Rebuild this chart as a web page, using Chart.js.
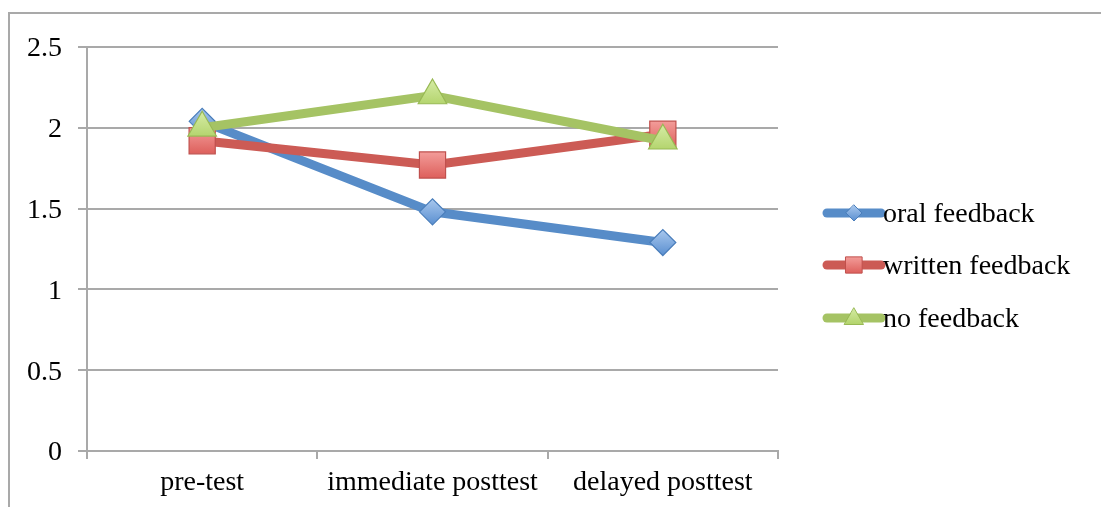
<!DOCTYPE html>
<html><head><meta charset="utf-8">
<script src="https://cdn.jsdelivr.net/npm/chart.js@4/dist/chart.umd.min.js"></script>
<style>
html,body{margin:0;padding:0;background:#fff;overflow:hidden;}
#wrap{position:relative;width:1101px;height:507px;}
#frame{position:absolute;left:8px;top:12px;width:1093px;height:495px;border-left:2px solid #a9a9a9;border-top:2px solid #a9a9a9;box-sizing:border-box;}
canvas{position:absolute;left:0;top:0;}
</style></head>
<body><div id="wrap"><div id="frame"></div><canvas id="c" width="1101" height="507"></canvas></div>
<script>
const categories = ['pre-test', 'immediate posttest', 'delayed posttest'];
const oralFeedback = [2.04, 1.48, 1.29];
const writtenFeedback = [1.92, 1.77, 1.96];
const noFeedback = [2.0, 2.2, 1.92];
const yTicks = [0, 0.5, 1, 1.5, 2, 2.5];

const FONT = "'Liberation Serif', 'Times New Roman', serif";

const series = [
  {label:'oral feedback', data:oralFeedback, line:'#578cc8', border:'#4a7ebb', top:'#a9c8ee', bottom:'#5a8fd0', style:'rectRot', r:13, lr:8, order:3},
  {label:'written feedback', data:writtenFeedback, line:'#cc5b55', border:'#c0504d', top:'#f7a9a6', bottom:'#d9534f', style:'rect', r:18.5, lr:11.5, order:2},
  {label:'no feedback', data:noFeedback, line:'#a5c364', border:'#98b954', top:'#d6eca6', bottom:'#a9cd5c', style:'triangle', r:16.5, lr:11, order:1}
];

function gradFor(s){
  return function(ctx){
    const chart = ctx.chart;
    if (!chart.chartArea || !ctx.parsed) return s.bottom;
    const y = chart.scales.y.getPixelForValue(ctx.parsed.y);
    const g = chart.ctx.createLinearGradient(0, y - s.r, 0, y + s.r);
    g.addColorStop(0, s.top);
    g.addColorStop(1, s.bottom);
    return g;
  };
}

function drawMarker(ctx, style, x, y, r){
  ctx.beginPath();
  if (style === 'rectRot'){
    ctx.moveTo(x, y - r); ctx.lineTo(x + r, y); ctx.lineTo(x, y + r); ctx.lineTo(x - r, y);
  } else if (style === 'rect'){
    const h = r * Math.SQRT1_2;
    ctx.rect(x - h, y - h, 2*h, 2*h);
  } else {
    ctx.moveTo(x, y - r);
    ctx.lineTo(x + r*Math.sin(2*Math.PI/3), y - r*Math.cos(2*Math.PI/3));
    ctx.lineTo(x + r*Math.sin(4*Math.PI/3), y - r*Math.cos(4*Math.PI/3));
  }
  ctx.closePath();
  ctx.fill(); ctx.stroke();
}

const legendPlugin = {
  id:'customLegend',
  afterDraw(chart){
    const ctx = chart.ctx;
    const a = chart.chartArea;
    const x0 = a.right + 49, x1 = a.right + 103, xm = (x0 + x1)/2;
    const ys = [213, 265, 318];
    ctx.save();
    series.forEach((s, i) => {
      const y = ys[i];
      ctx.lineCap = 'round';
      ctx.strokeStyle = s.line; ctx.lineWidth = 9;
      ctx.beginPath(); ctx.moveTo(x0, y); ctx.lineTo(x1, y); ctx.stroke();
      const g = ctx.createLinearGradient(0, y - s.lr, 0, y + s.lr);
      g.addColorStop(0, s.top); g.addColorStop(1, s.bottom);
      ctx.fillStyle = g; ctx.strokeStyle = s.border; ctx.lineWidth = 1;
      drawMarker(ctx, s.style, xm, y + (s.style === 'triangle' ? 1 : 0), s.lr);
      ctx.fillStyle = '#000';
      ctx.font = '28px ' + FONT;
      ctx.textBaseline = 'middle'; ctx.textAlign = 'left';
      ctx.fillText(s.label, x1 + 2, y + 2);
    });
    ctx.restore();
  }
};

new Chart(document.getElementById('c'), {
  type:'line',
  data:{
    labels:categories,
    datasets: series.map(s => ({
      label:s.label, data:s.data, order:s.order,
      borderColor:s.line, borderWidth:9, tension:0,
      pointStyle:s.style, pointRadius:s.r, pointHoverRadius:s.r,
      pointBackgroundColor:gradFor(s), pointBorderColor:s.border, pointBorderWidth:1.2
    }))
  },
  options:{
    responsive:false, animation:false, devicePixelRatio:1,
    layout:{padding:{left:0, right:323, top:47, bottom:0}},
    plugins:{legend:{display:false}, tooltip:{enabled:false}},
    scales:{
      x:{
        offset:true,
        grid:{offset:true, drawOnChartArea:false, color:'#a9a9a9', lineWidth:2, tickLength:8},
        border:{display:true, color:'#a9a9a9', width:2},
        ticks:{color:'#000', font:{family:FONT, size:28}, padding:7, maxRotation:0},
        afterFit(scale){ scale.height = 56; }
      },
      y:{
        min:0, max:2.5,
        afterBuildTicks(scale){ scale.ticks = yTicks.map(v => ({value:v})); },
        grid:{color:'#a9a9a9', lineWidth:2, tickLength:9},
        border:{display:true, color:'#a9a9a9', width:2},
        ticks:{color:'#000', font:{family:FONT, size:28}, padding:16, labelOffset:2,
          callback:(v) => String(v)},
        afterFit(scale){ scale.width = 87; }
      }
    }
  },
  plugins:[legendPlugin]
});
</script></body></html>
